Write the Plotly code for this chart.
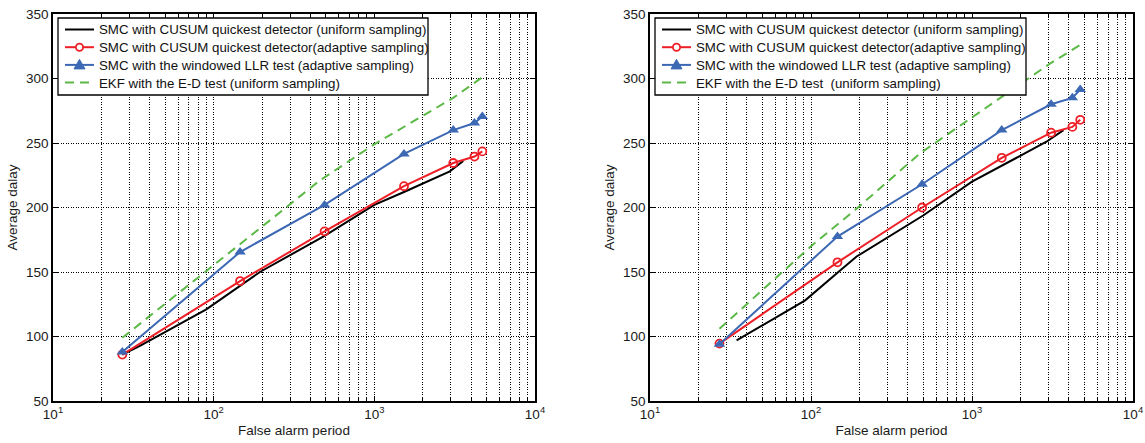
import plotly.graph_objects as go

# ---- data: false-alarm period vs average delay ----
series_names_left = [
    "SMC with CUSUM quickest detector (uniform sampling)",
    "SMC with CUSUM quickest detector(adaptive sampling)",
    "SMC with the windowed LLR test (adaptive sampling)",
    "EKF with the E-D test (uniform sampling)",
]
series_names_right = [
    "SMC with CUSUM quickest detector (uniform sampling)",
    "SMC with CUSUM quickest detector(adaptive sampling)",
    "SMC with the windowed LLR test (adaptive sampling)",
    "EKF with the E-D test&nbsp; (uniform sampling)",
]

# left panel
left_cusum_uniform_x = [27, 35, 90, 146, 194, 490, 1000, 1530, 2950, 3575]
left_cusum_uniform_y = [86, 93, 121, 139, 150, 178, 202, 212, 228, 236]
left_cusum_adaptive_x = [27, 146, 490, 1530, 3100, 4200, 4700]
left_cusum_adaptive_y = [86, 143, 181.5, 216.5, 234.5, 239.5, 243.5]
left_llr_x = [27, 146, 490, 1530, 3100, 4200, 4700]
left_llr_y = [88, 165.5, 202, 241.5, 260, 265.5, 270.5]
left_ekf_x = [27, 100, 146, 204, 458, 1000, 3100, 4700]
left_ekf_y = [99, 155, 171, 186, 221, 249, 285, 301]

# right panel
right_cusum_uniform_x = [34.5, 92, 151, 192, 500, 1000, 2900, 3700]
right_cusum_uniform_y = [97, 128, 151, 162, 194, 220, 251, 260]
right_cusum_adaptive_x = [27, 146, 490, 1530, 3100, 4200, 4700]
right_cusum_adaptive_y = [94.5, 157.5, 200, 238.5, 258, 262.5, 268]
right_llr_x = [27, 146, 490, 1530, 3100, 4200, 4700]
right_llr_y = [94, 177.5, 218, 260, 280, 285, 291.5]
right_ekf_x = [27, 100, 150, 200, 476, 1000, 2200, 3000, 4700]
right_ekf_y = [106, 170, 188, 201, 242, 270, 300, 311, 326]

# axis ticks
x_major = [10, 100, 1000, 10000]
x_major_text = ["10<sup>1</sup>", "10<sup>2</sup>", "10<sup>3</sup>", "10<sup>4</sup>"]
x_minor = [m * d for d in (10, 100, 1000) for m in range(2, 10)]
y_ticks = [50, 100, 150, 200, 250, 300, 350]

BLACK = "#000000"
RED = "#ee1f26"
BLUE = "#3c68b4"
GREEN = "#5cb947"
FONT = "Liberation Sans, Arial, sans-serif"
TXT = "#1a1a1a"
GREEN_DASH = "9px,6px"

W, H = 1145, 443

fig = go.Figure()


def add_panel(xa, ya, data):
    (ux, uy), (ax_, ay), (lx, ly), (ex, ey) = data
    fig.add_trace(go.Scatter(
        x=ux, y=uy, mode="lines",
        line=dict(color=BLACK, width=2), xaxis=xa, yaxis=ya))
    fig.add_trace(go.Scatter(
        x=ax_, y=ay, mode="lines+markers",
        line=dict(color=RED, width=2),
        marker=dict(symbol="circle-open", size=8, color=RED, line=dict(width=1.8)),
        xaxis=xa, yaxis=ya))
    fig.add_trace(go.Scatter(
        x=lx, y=ly, mode="lines+markers",
        line=dict(color=BLUE, width=2),
        marker=dict(symbol="triangle-up", size=10, color=BLUE),
        xaxis=xa, yaxis=ya))
    fig.add_trace(go.Scatter(
        x=ex, y=ey, mode="lines",
        line=dict(color=GREEN, width=2, dash=GREEN_DASH), xaxis=xa, yaxis=ya))


add_panel("x", "y", [
    (left_cusum_uniform_x, left_cusum_uniform_y),
    (left_cusum_adaptive_x, left_cusum_adaptive_y),
    (left_llr_x, left_llr_y),
    (left_ekf_x, left_ekf_y),
])
add_panel("x2", "y2", [
    (right_cusum_uniform_x, right_cusum_uniform_y),
    (right_cusum_adaptive_x, right_cusum_adaptive_y),
    (right_llr_x, right_llr_y),
    (right_ekf_x, right_ekf_y),
])

# ---- compact boxed legends (pixel layout converted to paper units) ----
def px(x):
    return x / W


def py(y):
    return 1 - y / H


shapes = []
annotations = []
row_gap = 17.7
row_first = 29.5
legend_styles = [
    dict(color=BLACK, dash="solid", marker=None),
    dict(color=RED, dash="solid", marker="circle"),
    dict(color=BLUE, dash="solid", marker="triangle"),
    dict(color=GREEN, dash=GREEN_DASH, marker=None),
]


def add_legend(box_left, box_right, names):
    shapes.append(dict(type="rect", xref="paper", yref="paper",
                       x0=px(box_left), x1=px(box_right), y0=py(95), y1=py(18),
                       fillcolor="white", line=dict(color=BLACK, width=1.3),
                       layer="above"))
    s0, s1 = box_left + 7, box_left + 36
    for i, (name, st) in enumerate(zip(names, legend_styles)):
        cy = row_first + i * row_gap
        shapes.append(dict(type="line", xref="paper", yref="paper",
                           x0=px(s0), x1=px(s1), y0=py(cy), y1=py(cy),
                           line=dict(color=st["color"], width=2, dash=st["dash"]),
                           layer="above"))
        cx = (s0 + s1) / 2
        if st["marker"] == "circle":
            r = 3.6
            shapes.append(dict(type="circle", xref="paper", yref="paper",
                               x0=px(cx - r), x1=px(cx + r), y0=py(cy + r), y1=py(cy - r),
                               fillcolor="white", line=dict(color=RED, width=1.8),
                               layer="above"))
        elif st["marker"] == "triangle":
            path = "M {:.5f},{:.5f} L {:.5f},{:.5f} L {:.5f},{:.5f} Z".format(
                px(cx - 5.5), py(cy + 4), px(cx + 5.5), py(cy + 4), px(cx), py(cy - 5.5))
            shapes.append(dict(type="path", xref="paper", yref="paper", path=path,
                               fillcolor=BLUE, line=dict(color=BLUE, width=1),
                               layer="above"))
        annotations.append(dict(xref="paper", yref="paper", x=px(box_left + 39), y=py(cy + 0.5),
                                text=name, showarrow=False, xanchor="left", yanchor="middle",
                                font=dict(family=FONT, size=13.3, color="#111111")))


add_legend(58, 428, series_names_left)
add_legend(655, 1026, series_names_right)

grid_col = "#000000"
grid_dash = "1px,1.5px"

xaxis_common = dict(
    type="log", range=[1, 4], automargin=False,
    tickvals=x_major, ticktext=x_major_text,
    ticks="inside", ticklen=5, tickcolor=BLACK, tickwidth=1,
    showline=True, linecolor=BLACK, linewidth=1.5, mirror="ticks",
    showgrid=True, gridcolor=grid_col, gridwidth=1, griddash=grid_dash,
    minor=dict(tickvals=x_minor, ticks="inside", ticklen=3, tickcolor=BLACK,
               showgrid=True, gridcolor=grid_col, gridwidth=1, griddash=grid_dash),
    zeroline=False,
    tickfont=dict(family=FONT, size=13.5, color=TXT),
    title=dict(text="False alarm period", standoff=5,
               font=dict(family=FONT, size=13.5, color=TXT)),
)
yaxis_common = dict(
    range=[50, 350], tickvals=y_ticks, automargin=False,
    ticks="inside", ticklen=5, tickcolor=BLACK, tickwidth=1,
    showline=True, linecolor=BLACK, linewidth=1.5, mirror="ticks",
    showgrid=True, gridcolor=grid_col, gridwidth=1, griddash=grid_dash,
    zeroline=False,
    tickfont=dict(family=FONT, size=13.5, color=TXT),
    title=dict(text="Average dalay", standoff=5,
               font=dict(family=FONT, size=13.5, color=TXT)),
)

y_dom = [42 / H, 1 - 14 / H]

fig.update_layout(
    width=W, height=H,
    margin=dict(l=0, r=0, t=0, b=0, autoexpand=False),
    paper_bgcolor="white", plot_bgcolor="white",
    hovermode=False, showlegend=False,
    xaxis=dict(domain=[53 / W, 535 / W], anchor="y", **xaxis_common),
    yaxis=dict(domain=y_dom, anchor="x", **yaxis_common),
    xaxis2=dict(domain=[650 / W, 1133 / W], anchor="y2", **xaxis_common),
    yaxis2=dict(domain=y_dom, anchor="x2", **yaxis_common),
    shapes=shapes,
    annotations=annotations,
)

fig.write_html("out.html")
